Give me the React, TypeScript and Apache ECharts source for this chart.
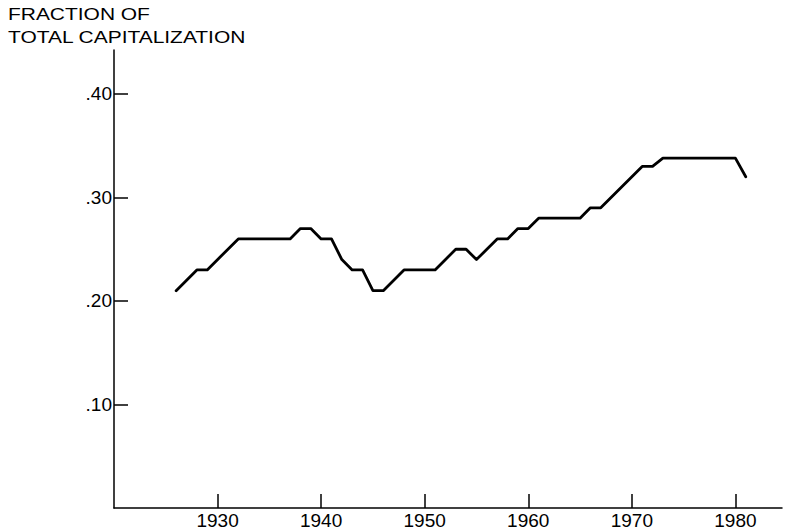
import React, { useEffect, useRef } from "react";
import * as echarts from "echarts";

const titleLines = ["FRACTION OF", "TOTAL CAPITALIZATION"];
const years = [1926, 1928, 1929, 1932, 1937, 1938, 1939, 1940, 1941, 1942, 1943, 1944, 1945, 1946, 1948, 1951, 1953, 1954, 1955, 1957, 1958, 1959, 1960, 1961, 1965, 1966, 1967, 1971, 1972, 1973, 1980, 1981];
const values = [0.21, 0.23, 0.23, 0.26, 0.26, 0.27, 0.27, 0.26, 0.26, 0.24, 0.23, 0.23, 0.21, 0.21, 0.23, 0.23, 0.25, 0.25, 0.24, 0.26, 0.26, 0.27, 0.27, 0.28, 0.28, 0.29, 0.29, 0.33, 0.33, 0.338, 0.338, 0.32];
const xTicks = [1930, 1940, 1950, 1960, 1970, 1980];
const yTicks = [0.1, 0.2, 0.3, 0.4];

const FONT = "'Liberation Sans', Arial, Helvetica, sans-serif";

export default function App() {
  const ref = useRef<HTMLDivElement>(null);
  useEffect(() => {
    if (!ref.current) return;
    const chart = echarts.init(ref.current, null, { renderer: "svg" });
    chart.setOption({
      animation: false,
      backgroundColor: "#ffffff",
      grid: { left: 114, right: 4, top: 50, bottom: 23, containLabel: false },
      graphic: titleLines.map((t, i) => ({
        type: "text",
        x: 8,
        y: 14 + i * 23,
        scaleX: 1.31,
        style: {
          text: t,
          fill: "#000",
          font: `16px ${FONT}`,
          align: "left",
          verticalAlign: "middle",
        },
      })),
      xAxis: {
        type: "value",
        min: 1920,
        max: 1984.5,
        splitLine: { show: false },
        axisLine: { show: true, onZero: false, lineStyle: { color: "#000", width: 1.5 } },
        axisTick: { show: true, inside: true, length: 14, customValues: xTicks, lineStyle: { color: "#000", width: 1.5 } },
        axisLabel: {
          show: true,
          customValues: xTicks,
          margin: 3,
          color: "#000",
          fontSize: 19,
          fontFamily: FONT,
          formatter: (v: number) => String(v),
        },
      },
      yAxis: {
        type: "value",
        min: 0,
        max: 0.4425,
        splitLine: { show: false },
        axisLine: { show: true, lineStyle: { color: "#000", width: 1.5 } },
        axisTick: { show: true, inside: true, length: 14, customValues: yTicks, lineStyle: { color: "#000", width: 1.5 } },
        axisLabel: {
          show: true,
          customValues: yTicks,
          margin: 2,
          color: "#000",
          fontSize: 19,
          fontFamily: FONT,
          formatter: (v: number) => v.toFixed(2).replace(/^0/, ""),
        },
      },
      series: [
        {
          type: "line",
          data: years.map((y, i) => [y, values[i]]),
          showSymbol: false,
          symbol: "none",
          lineStyle: { color: "#000", width: 2.8, join: "round", cap: "round" },
        },
      ],
    });
    return () => chart.dispose();
  }, []);
  return (
    <div
      ref={ref}
      style={{ position: "fixed", left: 0, top: 0, width: 786, height: 531, background: "#fff" }}
    />
  );
}
